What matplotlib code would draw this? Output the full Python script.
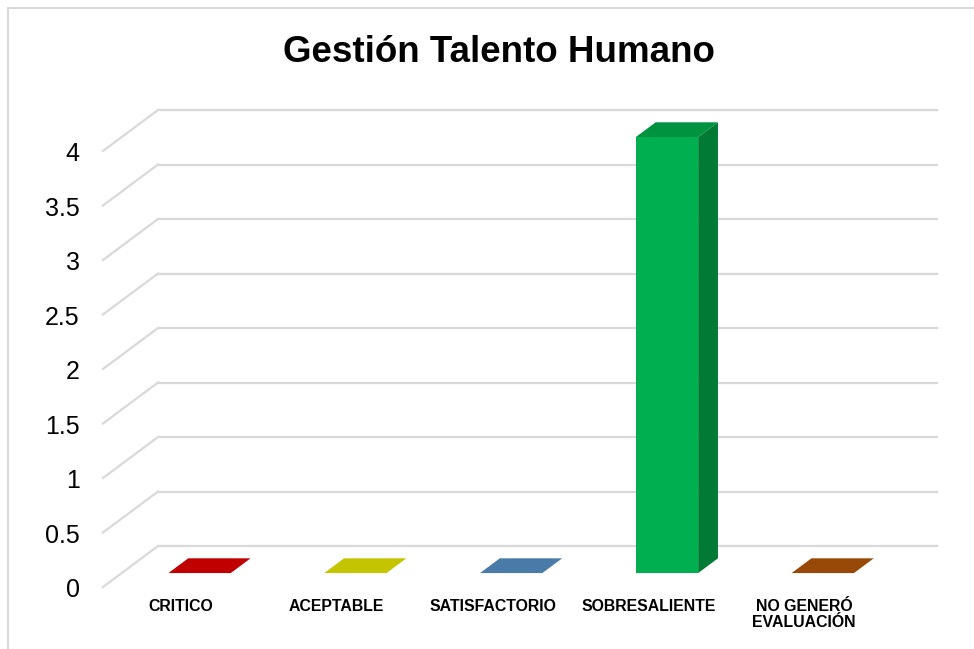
import matplotlib
matplotlib.use("Agg")
import matplotlib.pyplot as plt
from matplotlib.patches import Polygon
from matplotlib.lines import Line2D

# Data
categories = ["CRITICO", "ACEPTABLE", "SATISFACTORIO", "SOBRESALIENTE", "NO GENERÓ\nEVALUACIÓN"]
values = [0, 0, 0, 4, 0]
front_colors = ["#C00000", "#C4C400", "#4A7BA8", "#00B050", "#984807"]
top_colors = ["#C00000", "#C4C400", "#4A7BA8", "#00933F", "#984807"]
side_colors = ["#A00000", "#A0A000", "#3A6388", "#007A35", "#7A3A05"]
y_ticks = [0, 0.5, 1, 1.5, 2, 2.5, 3, 3.5, 4]
y_ticklabels = ["0", "0.5", "1", "1.5", "2", "2.5", "3", "3.5", "4"]

plt.rcParams['font.family'] = ['Liberation Sans', 'DejaVu Sans']

# 3D look: depth offset of the back wall in data units
DX, DY = 0.353, 0.376
F0, F1 = 0.34, 0.70     # bar front/back position within the depth
HALF = 0.2              # half bar width

fig = plt.figure(figsize=(9.74, 6.49), dpi=100)
ax = fig.add_axes([103 / 974, 1 - 587 / 649, (937 - 103) / 974, (587 - 110) / 649])
n = len(categories)
ax.set_xlim(-0.5, n - 0.5 + DX)
ax.set_ylim(0, max(y_ticks) + DY)
ax.axis('off')

grid_col = "#D9D9D9"
for v in y_ticks:
    ax.plot([-0.5, -0.5 + DX], [v, v + DY], color=grid_col, lw=1.6, clip_on=False, zorder=1)
    ax.plot([-0.5 + DX, n - 0.5 + DX], [v + DY, v + DY], color=grid_col, lw=1.6, clip_on=False, zorder=1)

for v, lab in zip(y_ticks, y_ticklabels):
    ax.text(-0.65, v - 0.03, lab, ha='right', va='center', fontsize=18, color='black')

for i, (val, fc, tc, sc) in enumerate(zip(values, front_colors, top_colors, side_colors)):
    x0 = i - HALF + F0 * DX
    x1 = i + HALF + F0 * DX
    y0 = F0 * DY
    ddx = (F1 - F0) * DX
    ddy = (F1 - F0) * DY
    top = [(x0, y0 + val), (x1, y0 + val), (x1 + ddx, y0 + val + ddy), (x0 + ddx, y0 + val + ddy)]
    if val > 0:
        front = [(x0, y0), (x1, y0), (x1, y0 + val), (x0, y0 + val)]
        side = [(x1, y0), (x1 + ddx, y0 + ddy), (x1 + ddx, y0 + val + ddy), (x1, y0 + val)]
        ax.add_patch(Polygon(side, closed=True, facecolor=sc, edgecolor='none', zorder=3, clip_on=False))
        ax.add_patch(Polygon(front, closed=True, facecolor=fc, edgecolor='none', zorder=4, clip_on=False))
    ax.add_patch(Polygon(top, closed=True, facecolor=tc, edgecolor='none', zorder=4, clip_on=False))

for i, cat in enumerate(categories):
    ax.text(i, -0.11, cat, ha='center', va='top', fontsize=11.4, fontweight='bold',
            color='black', linespacing=1.1)

fig.text(499 / 974, 1 - 52 / 649, "Gestión Talento Humano", ha='center', va='center',
         fontsize=26.5, fontweight='bold', color='black')

# outer chart border (top and left visible)
fig.add_artist(Line2D([8 / 974, 8 / 974], [0, 1 - 8 / 649], color=grid_col, lw=1.5, transform=fig.transFigure))
fig.add_artist(Line2D([8 / 974, 1], [1 - 8 / 649, 1 - 8 / 649], color=grid_col, lw=1.5, transform=fig.transFigure))

fig.savefig("out.png", dpi=100, facecolor='white')
